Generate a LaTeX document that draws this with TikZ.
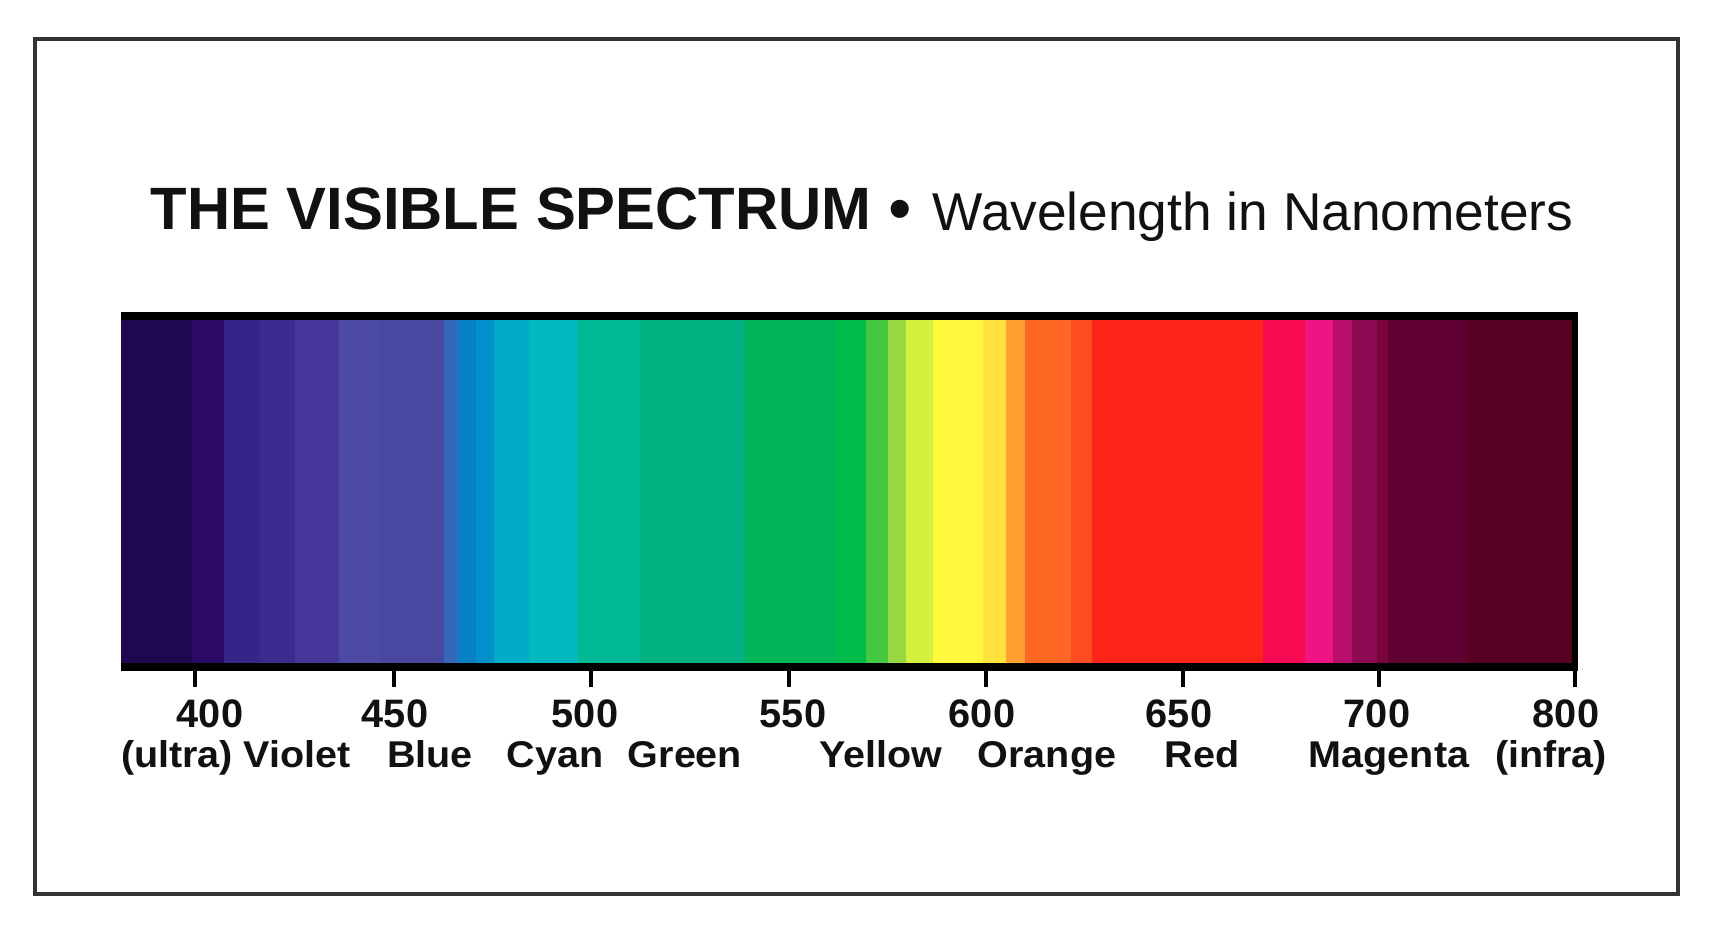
\documentclass[tikz,border=0pt]{standalone}
\usepackage{fontspec}
\setmainfont{Liberation Sans}
\definecolor{framegray}{HTML}{333333}
\definecolor{ink}{HTML}{111111}
\tikzset{
  frame/.style={draw=framegray, line width=0.9pt},
  title/.style={inner sep=0pt, anchor=base west, text=ink, font=\fontsize{17}{20}\selectfont\bfseries},
  subtitle/.style={inner sep=0pt, anchor=base west, text=ink, font=\fontsize{15.15}{18}\selectfont},
  num/.style={inner sep=0pt, anchor=base, text=ink, font=\fontsize{11.3}{13}\selectfont\bfseries},
  cname/.style={inner sep=0pt, anchor=base, text=ink, font=\fontsize{10.6}{13}\selectfont\bfseries},
  tickmark/.style={draw=black, line width=1.4pt},
}
\newcommand{\wide}[1]{\scalebox{1.06}[1]{#1}}
\begin{document}
\begin{tikzpicture}[x=0.01cm, y=-0.01cm]
\useasboundingbox (0,0) rectangle (1709,930);
\fill[white] (0,0) rectangle (1709,930);
% outer frame
\draw[frame] (35,39) rectangle (1678,894);
% title
\node[title] (t1) at (150,229) {THE VISIBLE SPECTRUM};
\node[inner sep=0pt, anchor=base, text=ink, font=\fontsize{19}{20}\selectfont] (bul) at (900,231) {•};
\node[subtitle] (t2) at (932,230) {Wavelength in Nanometers};
% spectrum stripes
\foreach \a/\b/\c in {
  121/192/1E0850, 192/224/2A0A66, 224/260/362488, 260/295/3A2C8E,
  295/339/45389A, 339/380/4C4AA2, 380/444/4848A0, 444/458/3468B8,
  458/476/0880C8, 476/494/0090CC, 494/529/00ACC8, 529/578/00B8BE,
  578/640/00B894, 640/745/00B080, 745/837/00B458, 837/866/00BA4A,
  866/888/44C840, 888/906/98D840, 906/933/D6F040, 933/983/FFF83C,
  983/1006/FFE23C, 1006/1025/FFA030, 1025/1071/FF6824, 1071/1092/FF4C20,
  1092/1263/FF2418, 1263/1305/F80A52, 1305/1333/EE1484, 1333/1352/B80E6C,
  1352/1377/8E0A52, 1377/1388/780438, 1388/1467/600032, 1467/1572/580022}
{
  \definecolor{stripe}{HTML}{\c}
  \fill[stripe] (\a,319) rectangle (\b+1,664);
}
% bar borders
\fill[black] (121,312) rectangle (1578,320);
\fill[black] (121,663) rectangle (1578,671);
\fill[black] (1572,312) rectangle (1578,671);
% ticks
\foreach \x in {195,394,591,789,986,1183,1379,1575}
  \draw[tickmark] (\x,670) -- (\x,687);
% numbers
\node[num] (n400) at (210,727) {400};
\node[num] (n450) at (395,727) {450};
\node[num] (n500) at (585,727) {500};
\node[num] (n550) at (793,727) {550};
\node[num] (n600) at (982,727) {600};
\node[num] (n650) at (1179,727) {650};
\node[num] (n700) at (1377,727) {700};
\node[num] (n800) at (1566,727) {800};
% colour names
\node[cname] (cviolet) at (236,767) {\wide{(ultra) Violet}};
\node[cname] (cblue) at (430,767) {\wide{Blue}};
\node[cname] (ccyan) at (555,767) {\wide{Cyan}};
\node[cname] (cgreen) at (685,767) {\wide{Green}};
\node[cname] (cyellow) at (881,767) {\wide{Yellow}};
\node[cname] (corange) at (1047,767) {\wide{Orange}};
\node[cname] (cred) at (1202,767) {\wide{Red}};
\node[cname] (cmagenta) at (1389,767) {\wide{Magenta}};
\node[cname] (cinfra) at (1551,767) {\wide{(infra)}};
\end{tikzpicture}
\end{document}
